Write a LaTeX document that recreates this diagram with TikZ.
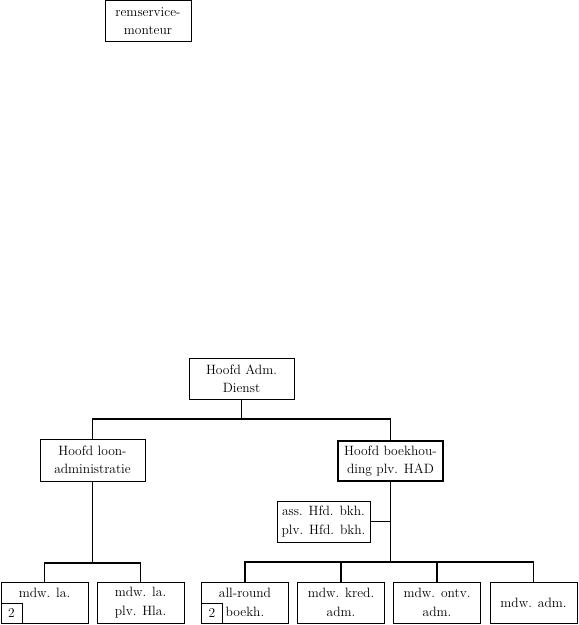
\documentclass[tikz,border=0pt]{standalone}
\usepackage{tikz}
\usetikzlibrary{positioning,calc}

\begin{document}
\begin{tikzpicture}[
    x=1pt, y=-1pt,
    post/.style={rectangle, draw, line width=1pt, align=center, inner sep=0pt, minimum height=41pt, font=\fontsize{13.5}{18.5}\selectfont},
    chief/.style={post, line width=2.6pt},
    tag/.style={rectangle, draw, line width=1pt, inner sep=0pt, minimum width=21pt, minimum height=20pt, font=\fontsize{13.5}{18.5}\selectfont},
    link/.style={line width=1.2pt}
]
    \useasboundingbox (0,0) rectangle (579,625);

    \node[post, minimum width=86pt] (monteur) at (148,21) {remservice-\\monteur};

    \node[post, minimum width=105pt] (had) at (241.5,378.5) {Hoofd Adm.\\Dienst};
    \node[post, minimum width=105pt, minimum height=42pt] (loon) at (92.5,460) {Hoofd loon-\\administratie};
    \node[chief, minimum width=105pt, minimum height=40pt] (boek) at (390.5,461) {Hoofd boekhou-\\ding plv. HAD};
    \node[post, minimum width=93pt] (ass) at (323.5,521.5) {ass. Hfd. bkh.\\plv. Hfd. bkh.};

    \node[post, minimum width=87pt] (mdwla) at (44.5,602.5) {mdw. la.\\~};
    \node[post, minimum width=87pt] (mdwhla) at (140.5,602.5) {mdw. la.\\plv. Hla.};
    \node[post, minimum width=87pt] (allround) at (245,602.5) {all-round\\boekh.};
    \node[post, minimum width=87pt] (kred) at (341,602.5) {mdw. kred.\\adm.};
    \node[post, minimum width=87pt] (ontv) at (437,602.5) {mdw. ontv.\\adm.};
    \node[post, minimum width=87pt] (mdwadm) at (533.5,602.5) {mdw. adm.};

    \node[tag, anchor=south west] (twoa) at (mdwla.south west) {2};
    \node[tag, anchor=south west] (twob) at (allround.south west) {2};

    % junctions
    \coordinate (topbar) at (241.5,419);
    \coordinate (loonbar) at (92.5,563);
    \coordinate (boekbar) at (390.5,562);

    \draw[link] (had.south) -- (topbar);
    \draw[link] (loon.north) |- (topbar) -| (boek.north);

    \draw[link] (loon.south) -- (loonbar);
    \draw[link] (mdwla.north) |- (loonbar) -| (mdwhla.north);

    \draw[link] (boek.south) -- (boekbar);
    \draw[link] (ass.east) -- (ass.east -| boek.south);
    \draw[link] (allround.north) |- (boekbar) -| (mdwadm.north);
    \draw[link] (kred.north) -- (kred.north |- boekbar);
    \draw[link] (ontv.north) -- (ontv.north |- boekbar);
\end{tikzpicture}
\end{document}
